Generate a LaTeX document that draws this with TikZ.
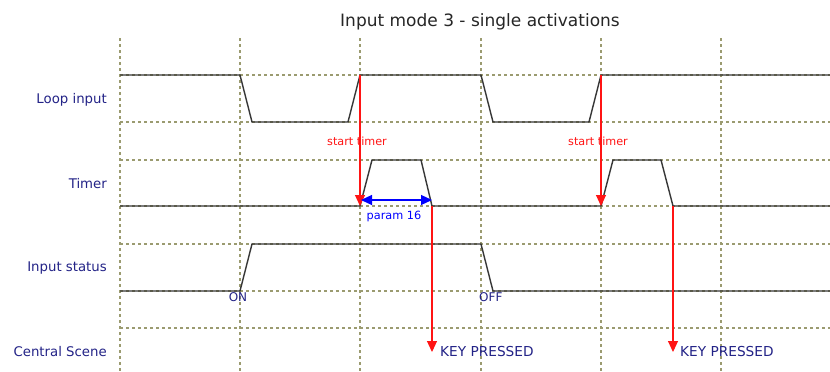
\documentclass[tikz,border=0pt]{standalone}
\usepackage{fontspec}
\setmainfont{DejaVu Sans}
\usetikzlibrary{arrows.meta}
\definecolor{gridc}{RGB}{155,155,112}
\definecolor{labc}{RGB}{35,35,135}
\definecolor{wavec}{RGB}{55,55,55}
\definecolor{redc}{RGB}{255,20,20}
\definecolor{bluec}{RGB}{0,0,255}
\tikzset{
  gridline/.style={gridc, line width=1.25pt, dash pattern=on 3pt off 3pt},
  wave/.style={wavec, line width=1.4pt, line join=miter},
  siglabel/.style={labc, anchor=east, font=\fontsize{13.3}{15}\selectfont, inner sep=0pt},
  redarrow/.style={redc, line width=1.1pt, -{Triangle[length=11pt,width=10pt]}},
  bluearrow/.style={bluec, line width=1.1pt, {Triangle[length=11pt,width=10pt]}-{Triangle[length=11pt,width=10pt]}},
  redtext/.style={redc, font=\fontsize{11.2}{13}\selectfont, inner sep=0pt},
  keytext/.style={labc, anchor=west, font=\fontsize{13.7}{15}\selectfont, inner sep=0pt},
  statetext/.style={labc, font=\fontsize{12}{14}\selectfont, inner sep=0pt}
}
\begin{document}
\begin{tikzpicture}[x=1pt,y=-1pt]
\useasboundingbox (0,0) rectangle (830,372);
\fill[white] (0,0) rectangle (830,372);
% title
\node[font=\fontsize{17}{20}\selectfont, text=black!85, inner sep=0pt] (title) at (480,22) {Input mode 3 - single activations};
% grid
\foreach \x in {120,240,360,481,601,721} \draw[gridline] (\x,38) -- (\x,372);
\foreach \y in {75,122,160,206,244,291,328} \draw[gridline] (120,\y) -- (830,\y);
% labels
\node[siglabel] (l1) at (107,100) {Loop input};
\node[siglabel] (l2) at (107,184) {Timer};
\node[siglabel] (l3) at (107,268) {Input status};
\node[siglabel] (l4) at (107,352) {Central Scene};
% waveforms
\draw[wave] (120,75) -- (240,75) -- (252,122) -- (348,122) -- (360,75) -- (481,75) -- (493,122) -- (589,122) -- (601,75) -- (830,75);
\draw[wave] (120,206) -- (360,206) -- (372,160) -- (421,160) -- (432,206) -- (601,206) -- (613,160) -- (661,160) -- (673,206) -- (830,206);
\draw[wave] (120,291) -- (240,291) -- (252,244) -- (481,244) -- (493,291) -- (830,291);
% annotations
\coordinate (s1) at (360,75);
\coordinate (t1) at (360,206);
\coordinate (s2) at (601,75);
\coordinate (t2) at (601,206);
\coordinate (e1) at (432,206);
\coordinate (k1) at (432,352);
\coordinate (e2) at (673,206);
\coordinate (k2) at (673,352);
\coordinate (p1) at (361,200);
\coordinate (p2) at (432,200);
\draw[redarrow] (s1) -- (t1);
\draw[redarrow] (s2) -- (t2);
\draw[redarrow] (e1) -- (k1);
\draw[redarrow] (e2) -- (k2);
\draw[bluearrow] (p1) -- (p2);
\node[redtext] (st1) at (357,141) {start timer};
\node[redtext] (st2) at (598,141) {start timer};
\node[bluec, font=\fontsize{11.3}{13}\selectfont, inner sep=0pt] (par) at (394,216) {param 16};
\node[keytext] (kp1) at (440,352) {KEY PRESSED};
\node[keytext] (kp2) at (680,352) {KEY PRESSED};
\node[statetext] (on) at (238,297) {ON};
\node[statetext, anchor=west] (off) at (479,297) {OFF};
\end{tikzpicture}
\end{document}
